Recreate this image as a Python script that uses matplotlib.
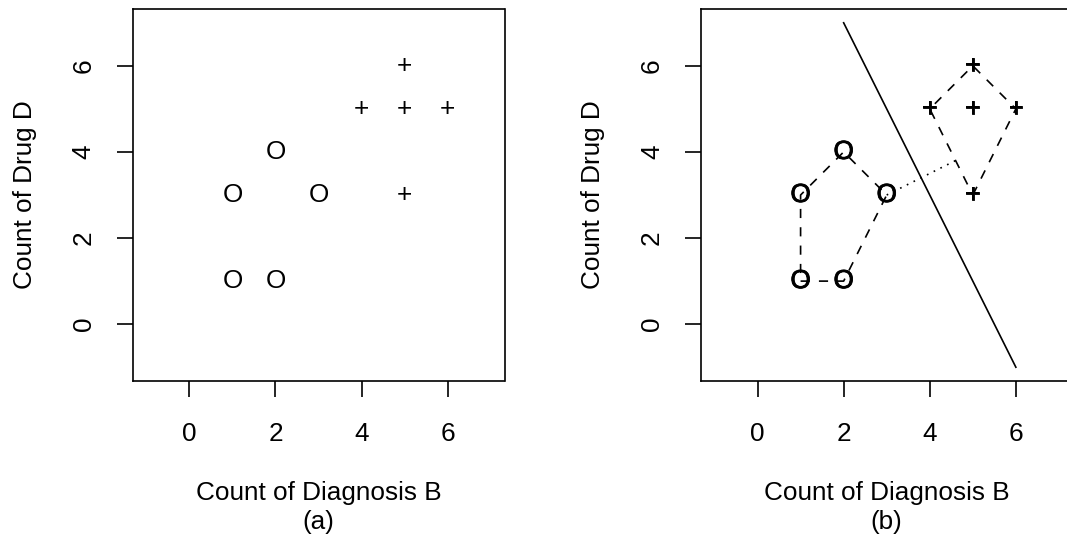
import matplotlib
matplotlib.use("Agg")
import matplotlib.pyplot as plt
import matplotlib.patheffects as pe

plt.rcParams['font.family'] = ['Liberation Sans', 'DejaVu Sans']

# ---- data ----
class_o_x = [1, 2, 1, 2, 3]
class_o_y = [1, 1, 3, 4, 3]
class_p_x = [4, 5, 6, 5, 5]
class_p_y = [5, 5, 5, 6, 3]

hull_o_x = [1, 2, 3, 2, 1, 1]
hull_o_y = [1, 1, 3, 4, 3, 1]
hull_p_x = [5, 6, 5, 4, 5]
hull_p_y = [3, 5, 6, 5, 3]

margin_x = [3, 4.6]
margin_y = [3, 3.8]

sep_x = [2, 6]
sep_y = [7, -1]

ticks = [0, 2, 4, 6]
xlabel = "Count of Diagnosis B"
ylabel = "Count of Drug D"
panel_labels = ["(a)", "(b)"]

FS = 18.8
LW = 1.2
W, H = 1067, 542

fig = plt.figure(figsize=(W / 100, H / 100), dpi=100)
box = 372
bottom = 1 - 381 / H
ax1 = fig.add_axes([132.5 / W, bottom, box / W, box / H])
ax2 = fig.add_axes([700.7 / W, bottom, box / W, box / H])


def style(ax, label):
    ax.set_xlim(-1.32, 7.32)
    ax.set_ylim(-1.32, 7.32)
    ax.set_xticks(ticks)
    ax.set_yticks(ticks)
    ax.set_xticklabels([str(t) for t in ticks])
    ax.set_yticklabels([str(t) for t in ticks], rotation=90, va='center')
    for s in ax.spines.values():
        s.set_linewidth(LW)
    ax.tick_params(axis='both', direction='out', length=11.5, width=LW,
                   labelsize=FS, color='black')
    ax.tick_params(axis='x', pad=18)
    ax.tick_params(axis='y', pad=15)
    ax.set_xlabel(xlabel + "\n" + label, fontsize=FS, va='center',
                  linespacing=1.25)
    ax.xaxis.set_label_coords(0.5, -0.34)
    ax.set_ylabel(ylabel, fontsize=FS, va='center')
    ax.yaxis.set_label_coords(-0.29, 0.5)


def markers(ax, bold=False):
    kw = dict(ha='center', va='center', fontsize=FS, color='black', zorder=5)
    if bold:
        kw['path_effects'] = [pe.withStroke(linewidth=0.6, foreground='black')]
    for x, y in zip(class_o_x, class_o_y):
        ax.text(x, y, "O", **kw)
    for x, y in zip(class_p_x, class_p_y):
        ax.text(x, y, "+", **kw)


style(ax1, panel_labels[0])
markers(ax1)

style(ax2, panel_labels[1])
markers(ax2, bold=True)
ax2.plot(hull_o_x, hull_o_y, color='black', lw=LW, dashes=(5.5, 5.5))
ax2.plot(hull_p_x, hull_p_y, color='black', lw=LW, dashes=(5.5, 5.5))
ax2.plot(margin_x, margin_y, color='black', lw=LW, dashes=(1, 3.5))
ax2.plot(sep_x, sep_y, color='black', lw=LW)

fig.savefig("out.png", dpi=100)
